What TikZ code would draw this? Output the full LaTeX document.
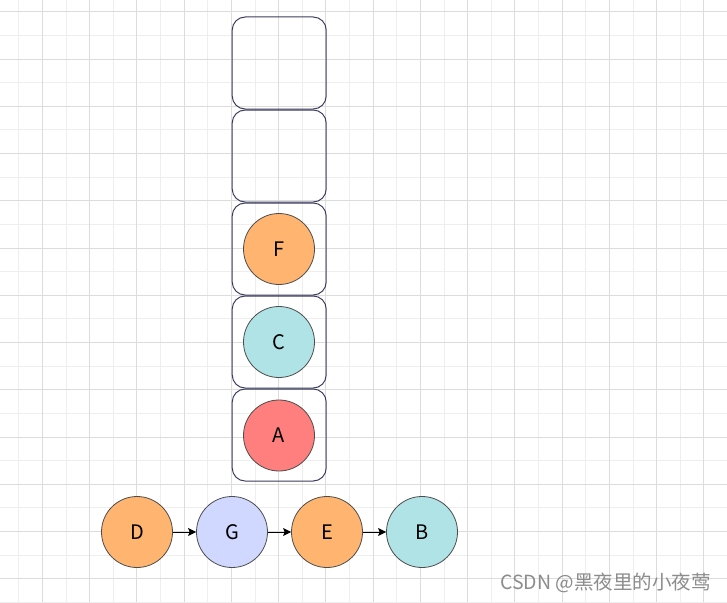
\documentclass[tikz,border=0pt]{standalone}
\usepackage{fontspec}
\setmainfont{Noto Sans CJK SC}
\usetikzlibrary{arrows.meta}
\definecolor{gridmajor}{HTML}{DCDCDC}
\definecolor{gridminor}{HTML}{EEEEEE}
\definecolor{boxline}{HTML}{3A3D5E}
\definecolor{cOrange}{HTML}{FFB570}
\definecolor{cTeal}{HTML}{B0E3E6}
\definecolor{cRed}{HTML}{FF7F7F}
\definecolor{cBlue}{HTML}{D0D8FF}
\tikzset{
  slot/.style={draw=boxline, line width=1pt, rounded corners=13pt, minimum width=94pt, minimum height=92pt, inner sep=0pt},
  ball/.style={circle, draw=black!70, line width=0.8pt, minimum size=71pt, inner sep=0pt, font=\fontsize{20}{20}\selectfont},
  link/.style={-{Stealth[length=8pt,width=8pt,inset=1.5pt]}, line width=0.9pt, black}
}
\begin{document}
\begin{tikzpicture}[x=1pt,y=-1pt]
\useasboundingbox (0,0) rectangle (727,602);
\fill[white] (0,0) rectangle (727,602);
% minor grid
\foreach \k in {-1,...,30} {
  \pgfmathsetmacro\xx{42.3+23.625*\k}
  \draw[gridminor, line width=0.8pt] (\xx,0) -- (\xx,602);
  \pgfmathsetmacro\yy{11.7+23.625*\k}
  \draw[gridminor, line width=0.8pt] (0,\yy) -- (727,\yy);
}
% major grid
\foreach \k in {0,...,15} {
  \pgfmathsetmacro\xx{42.3+47.25*\k}
  \draw[gridmajor, line width=0.9pt] (\xx,0) -- (\xx,602);
  \pgfmathsetmacro\yy{11.7+47.25*\k}
  \draw[gridmajor, line width=0.9pt] (0,\yy) -- (727,\yy);
}
% stack slots
\node[slot] (s1) at (279.2,63) {};
\node[slot] (s2) at (279.2,156) {};
\node[slot] (s3) at (279.2,249) {};
\node[slot] (s4) at (279.2,342) {};
\node[slot] (s5) at (279.2,435) {};
% stack balls
\node[ball, fill=cOrange] (F) at (279,249) {F};
\node[ball, fill=cTeal] (C) at (279,342) {C};
\node[ball, fill=cRed] (A) at (279,435.5) {A};
% queue
\node[ball, fill=cOrange] (D) at (137,532) {D};
\node[ball, fill=cBlue] (G) at (232,532) {G};
\node[ball, fill=cOrange] (E) at (327,532) {E};
\node[ball, fill=cTeal] (B) at (422,532) {B};
\draw[link] (D) -- (G);
\draw[link] (G) -- (E);
\draw[link] (E) -- (B);
% watermark
\node[anchor=west, inner sep=0pt, text=black!45, font=\fontsize{19.5}{19.5}\selectfont] (wm) at (500,583) {CSDN @黑夜里的小夜莺};
\end{tikzpicture}
\end{document}
